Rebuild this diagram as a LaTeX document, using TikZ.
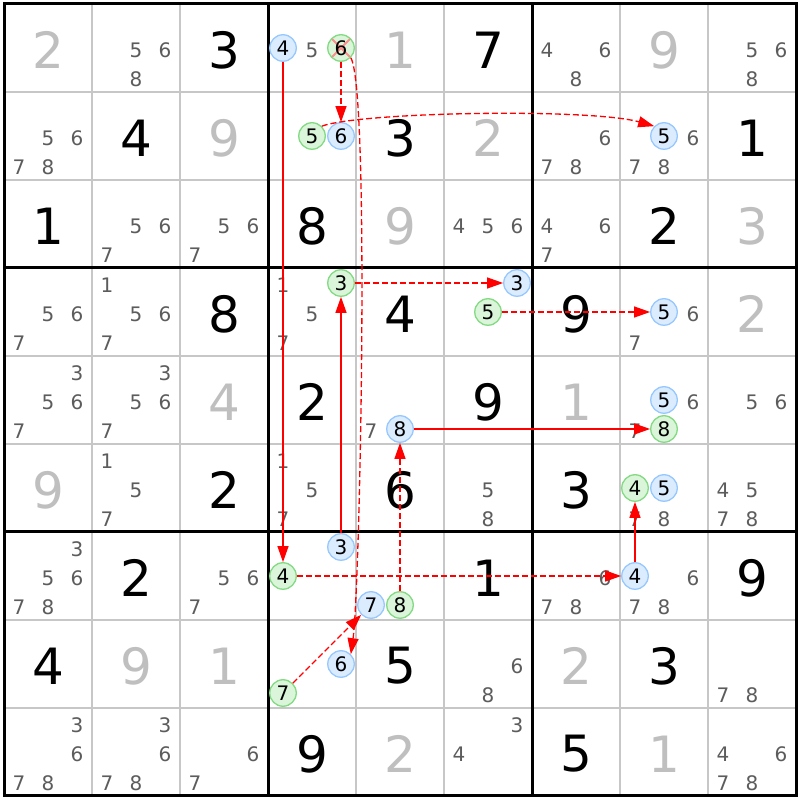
\documentclass[tikz,border=0pt]{standalone}
\usepackage{fontspec}
\setmainfont{DejaVu Sans}
\usepackage{tikz}
\usetikzlibrary{arrows.meta}

\begin{document}
\begin{tikzpicture}[x=1pt,y=1pt,
  given/.style={text=givenColor,inner sep=0pt,outer sep=0pt,font=\fontsize{50}{50}\selectfont},
  solved/.style={given,text=solvedColor},
  cand/.style={text=candColor,inner sep=0pt,outer sep=0pt,font=\fontsize{20}{20}\selectfont},
  oncand/.style={circle,draw=onDraw,fill=onFill,line width=1.3pt,minimum size=26.5pt,inner sep=0pt,text=black,font=\fontsize{20}{20}\selectfont},
  offcand/.style={oncand,draw=offDraw,fill=offFill},
  elim/.style={path picture={\draw[draw=elimColor,line width=2pt]
    (path picture bounding box.north west) -- (path picture bounding box.south east)
    (path picture bounding box.south west) -- (path picture bounding box.north east);}},
  strong/.style={draw=linkColor,line width=1.3pt,-{Triangle[length=16pt,width=11pt]}},
  weak/.style={strong,dash pattern=on 6pt off 3pt}]
\definecolor{fillColor}{RGB}{255,255,255}
\path[use as bounding box,fill=fillColor] (0,0) rectangle (800,800);
\begin{scope}
\definecolor{drawColor}{gray}{0.78}

\path[draw=drawColor,line width= 1.5pt] ( 92,  4) -- ( 92,796);

\path[draw=drawColor,line width= 1.5pt] (180,  4) -- (180,796);

\path[draw=drawColor,line width= 1.5pt] (356,  4) -- (356,796);

\path[draw=drawColor,line width= 1.5pt] (444,  4) -- (444,796);

\path[draw=drawColor,line width= 1.5pt] (620,  4) -- (620,796);

\path[draw=drawColor,line width= 1.5pt] (708,  4) -- (708,796);

\path[draw=drawColor,line width= 1.5pt] (  4, 92) -- (796, 92);

\path[draw=drawColor,line width= 1.5pt] (  4,180) -- (796,180);

\path[draw=drawColor,line width= 1.5pt] (  4,356) -- (796,356);

\path[draw=drawColor,line width= 1.5pt] (  4,444) -- (796,444);

\path[draw=drawColor,line width= 1.5pt] (  4,620) -- (796,620);

\path[draw=drawColor,line width= 1.5pt] (  4,708) -- (796,708);
\definecolor{drawColor}{RGB}{0,0,0}

\path[draw=drawColor,line width= 3.0pt] (268,  4) -- (268,796);

\path[draw=drawColor,line width= 3.0pt] (532,  4) -- (532,796);

\path[draw=drawColor,line width= 3.0pt] (  4,268) -- (796,268);

\path[draw=drawColor,line width= 3.0pt] (  4,532) -- (796,532);

\path[draw=drawColor,line width= 3.0pt] (  4,  4) rectangle (796,796);
\end{scope}
\begin{scope}
\definecolor{givenColor}{RGB}{0,0,0}
\definecolor{solvedColor}{gray}{0.75}
\definecolor{candColor}{gray}{0.36}
\definecolor{onFill}{RGB}{218,245,218}
\definecolor{onDraw}{RGB}{130,218,130}
\definecolor{offFill}{RGB}{220,236,255}
\definecolor{offDraw}{RGB}{150,200,255}
\definecolor{linkColor}{RGB}{255,0,0}
\definecolor{elimColor}{RGB}{255,140,140}

% row 1
\node[solved] (r1c1) at ( 48,750) {2};
\node[cand] (r1c2d5) at (136,750) {5};
\node[cand] (r1c2d6) at (165,750) {6};
\node[cand] (r1c2d8) at (136,721) {8};
\node[given] (r1c3) at (224,750) {3};
\node[offcand] (r1c4d4) at (283,752) {4};
\node[cand] (r1c4d5) at (312,750) {5};
\node[oncand,elim] (r1c4d6) at (341,752) {6};
\node[solved] (r1c5) at (400,750) {1};
\node[given] (r1c6) at (488,750) {7};
\node[cand] (r1c7d4) at (547,750) {4};
\node[cand] (r1c7d6) at (605,750) {6};
\node[cand] (r1c7d8) at (576,721) {8};
\node[solved] (r1c8) at (664,750) {9};
\node[cand] (r1c9d5) at (752,750) {5};
\node[cand] (r1c9d6) at (781,750) {6};
\node[cand] (r1c9d8) at (752,721) {8};

% row 2
\node[cand] (r2c1d5) at ( 48,662) {5};
\node[cand] (r2c1d6) at ( 77,662) {6};
\node[cand] (r2c1d7) at ( 19,633) {7};
\node[cand] (r2c1d8) at ( 48,633) {8};
\node[given] (r2c2) at (136,662) {4};
\node[solved] (r2c3) at (224,662) {9};
\node[oncand] (r2c4d5) at (312,664) {5};
\node[offcand] (r2c4d6) at (341,664) {6};
\node[given] (r2c5) at (400,662) {3};
\node[solved] (r2c6) at (488,662) {2};
\node[cand] (r2c7d6) at (605,662) {6};
\node[cand] (r2c7d7) at (547,633) {7};
\node[cand] (r2c7d8) at (576,633) {8};
\node[offcand] (r2c8d5) at (664,664) {5};
\node[cand] (r2c8d6) at (693,662) {6};
\node[cand] (r2c8d7) at (635,633) {7};
\node[cand] (r2c8d8) at (664,633) {8};
\node[given] (r2c9) at (752,662) {1};

% row 3
\node[given] (r3c1) at ( 48,574) {1};
\node[cand] (r3c2d5) at (136,574) {5};
\node[cand] (r3c2d6) at (165,574) {6};
\node[cand] (r3c2d7) at (107,545) {7};
\node[cand] (r3c3d5) at (224,574) {5};
\node[cand] (r3c3d6) at (253,574) {6};
\node[cand] (r3c3d7) at (195,545) {7};
\node[given] (r3c4) at (312,574) {8};
\node[solved] (r3c5) at (400,574) {9};
\node[cand] (r3c6d4) at (459,574) {4};
\node[cand] (r3c6d5) at (488,574) {5};
\node[cand] (r3c6d6) at (517,574) {6};
\node[cand] (r3c7d4) at (547,574) {4};
\node[cand] (r3c7d6) at (605,574) {6};
\node[cand] (r3c7d7) at (547,545) {7};
\node[given] (r3c8) at (664,574) {2};
\node[solved] (r3c9) at (752,574) {3};

% row 4
\node[cand] (r4c1d5) at ( 48,486) {5};
\node[cand] (r4c1d6) at ( 77,486) {6};
\node[cand] (r4c1d7) at ( 19,457) {7};
\node[cand] (r4c2d1) at (107,515) {1};
\node[cand] (r4c2d5) at (136,486) {5};
\node[cand] (r4c2d6) at (165,486) {6};
\node[cand] (r4c2d7) at (107,457) {7};
\node[given] (r4c3) at (224,486) {8};
\node[cand] (r4c4d1) at (283,515) {1};
\node[oncand] (r4c4d3) at (341,517) {3};
\node[cand] (r4c4d5) at (312,486) {5};
\node[cand] (r4c4d7) at (283,457) {7};
\node[given] (r4c5) at (400,486) {4};
\node[offcand] (r4c6d3) at (517,517) {3};
\node[oncand] (r4c6d5) at (488,488) {5};
\node[given] (r4c7) at (576,486) {9};
\node[offcand] (r4c8d5) at (664,488) {5};
\node[cand] (r4c8d6) at (693,486) {6};
\node[cand] (r4c8d7) at (635,457) {7};
\node[solved] (r4c9) at (752,486) {2};

% row 5
\node[cand] (r5c1d3) at ( 77,427) {3};
\node[cand] (r5c1d5) at ( 48,398) {5};
\node[cand] (r5c1d6) at ( 77,398) {6};
\node[cand] (r5c1d7) at ( 19,369) {7};
\node[cand] (r5c2d3) at (165,427) {3};
\node[cand] (r5c2d5) at (136,398) {5};
\node[cand] (r5c2d6) at (165,398) {6};
\node[cand] (r5c2d7) at (107,369) {7};
\node[solved] (r5c3) at (224,398) {4};
\node[given] (r5c4) at (312,398) {2};
\node[cand] (r5c5d7) at (371,369) {7};
\node[offcand] (r5c5d8) at (400,371) {8};
\node[given] (r5c6) at (488,398) {9};
\node[solved] (r5c7) at (576,398) {1};
\node[offcand] (r5c8d5) at (664,400) {5};
\node[cand] (r5c8d6) at (693,398) {6};
\node[cand] (r5c8d7) at (635,369) {7};
\node[oncand] (r5c8d8) at (664,371) {8};
\node[cand] (r5c9d5) at (752,398) {5};
\node[cand] (r5c9d6) at (781,398) {6};

% row 6
\node[solved] (r6c1) at ( 48,310) {9};
\node[cand] (r6c2d1) at (107,339) {1};
\node[cand] (r6c2d5) at (136,310) {5};
\node[cand] (r6c2d7) at (107,281) {7};
\node[given] (r6c3) at (224,310) {2};
\node[cand] (r6c4d1) at (283,339) {1};
\node[cand] (r6c4d5) at (312,310) {5};
\node[cand] (r6c4d7) at (283,281) {7};
\node[given] (r6c5) at (400,310) {6};
\node[cand] (r6c6d5) at (488,310) {5};
\node[cand] (r6c6d8) at (488,281) {8};
\node[given] (r6c7) at (576,310) {3};
\node[oncand] (r6c8d4) at (635,312) {4};
\node[offcand] (r6c8d5) at (664,312) {5};
\node[cand] (r6c8d7) at (635,281) {7};
\node[cand] (r6c8d8) at (664,281) {8};
\node[cand] (r6c9d4) at (723,310) {4};
\node[cand] (r6c9d5) at (752,310) {5};
\node[cand] (r6c9d7) at (723,281) {7};
\node[cand] (r6c9d8) at (752,281) {8};

% row 7
\node[cand] (r7c1d3) at ( 77,251) {3};
\node[cand] (r7c1d5) at ( 48,222) {5};
\node[cand] (r7c1d6) at ( 77,222) {6};
\node[cand] (r7c1d7) at ( 19,193) {7};
\node[cand] (r7c1d8) at ( 48,193) {8};
\node[given] (r7c2) at (136,222) {2};
\node[cand] (r7c3d5) at (224,222) {5};
\node[cand] (r7c3d6) at (253,222) {6};
\node[cand] (r7c3d7) at (195,193) {7};
\node[offcand] (r7c4d3) at (341,253) {3};
\node[oncand] (r7c4d4) at (283,224) {4};
\node[offcand] (r7c5d7) at (371,195) {7};
\node[oncand] (r7c5d8) at (400,195) {8};
\node[given] (r7c6) at (488,222) {1};
\node[cand] (r7c7d6) at (605,222) {6};
\node[cand] (r7c7d7) at (547,193) {7};
\node[cand] (r7c7d8) at (576,193) {8};
\node[offcand] (r7c8d4) at (635,224) {4};
\node[cand] (r7c8d6) at (693,222) {6};
\node[cand] (r7c8d7) at (635,193) {7};
\node[cand] (r7c8d8) at (664,193) {8};
\node[given] (r7c9) at (752,222) {9};

% row 8
\node[given] (r8c1) at ( 48,134) {4};
\node[solved] (r8c2) at (136,134) {9};
\node[solved] (r8c3) at (224,134) {1};
\node[offcand] (r8c4d6) at (341,136) {6};
\node[oncand] (r8c4d7) at (283,107) {7};
\node[given] (r8c5) at (400,134) {5};
\node[cand] (r8c6d6) at (517,134) {6};
\node[cand] (r8c6d8) at (488,105) {8};
\node[solved] (r8c7) at (576,134) {2};
\node[given] (r8c8) at (664,134) {3};
\node[cand] (r8c9d7) at (723,105) {7};
\node[cand] (r8c9d8) at (752,105) {8};

% row 9
\node[cand] (r9c1d3) at ( 77, 75) {3};
\node[cand] (r9c1d6) at ( 77, 46) {6};
\node[cand] (r9c1d7) at ( 19, 17) {7};
\node[cand] (r9c1d8) at ( 48, 17) {8};
\node[cand] (r9c2d3) at (165, 75) {3};
\node[cand] (r9c2d6) at (165, 46) {6};
\node[cand] (r9c2d7) at (107, 17) {7};
\node[cand] (r9c2d8) at (136, 17) {8};
\node[cand] (r9c3d6) at (253, 46) {6};
\node[cand] (r9c3d7) at (195, 17) {7};
\node[given] (r9c4) at (312, 46) {9};
\node[solved] (r9c5) at (400, 46) {2};
\node[cand] (r9c6d3) at (517, 75) {3};
\node[cand] (r9c6d4) at (459, 46) {4};
\node[given] (r9c7) at (576, 46) {5};
\node[solved] (r9c8) at (664, 46) {1};
\node[cand] (r9c9d4) at (723, 46) {4};
\node[cand] (r9c9d6) at (781, 46) {6};
\node[cand] (r9c9d7) at (723, 17) {7};
\node[cand] (r9c9d8) at (752, 17) {8};

% chain links
\draw[strong] (r1c4d4) -- (r7c4d4);
\draw[weak] (r1c4d6) -- (r2c4d6);
\draw[weak] (r2c4d5.north east) .. controls (360,688) and (590,692) .. (r2c8d5.north west);
\draw[weak] (r1c4d6.south east) .. controls (370,710) and (360,210) .. (r8c4d6.north east);
\draw[strong] (r7c4d3) -- (r4c4d3);
\draw[weak] (r4c4d3) -- (r4c6d3);
\draw[weak] (r4c6d5) -- (r4c8d5);
\draw[strong] (r5c5d8) -- (r5c8d8);
\draw[weak] (r7c5d8) -- (r5c5d8);
\draw[weak] (r7c4d4) -- (r7c8d4);
\draw[strong] (r7c8d4) -- (r6c8d4);
\draw[weak] (r8c4d7) -- (r7c5d7);
\end{scope}
\end{tikzpicture}
\end{document}
